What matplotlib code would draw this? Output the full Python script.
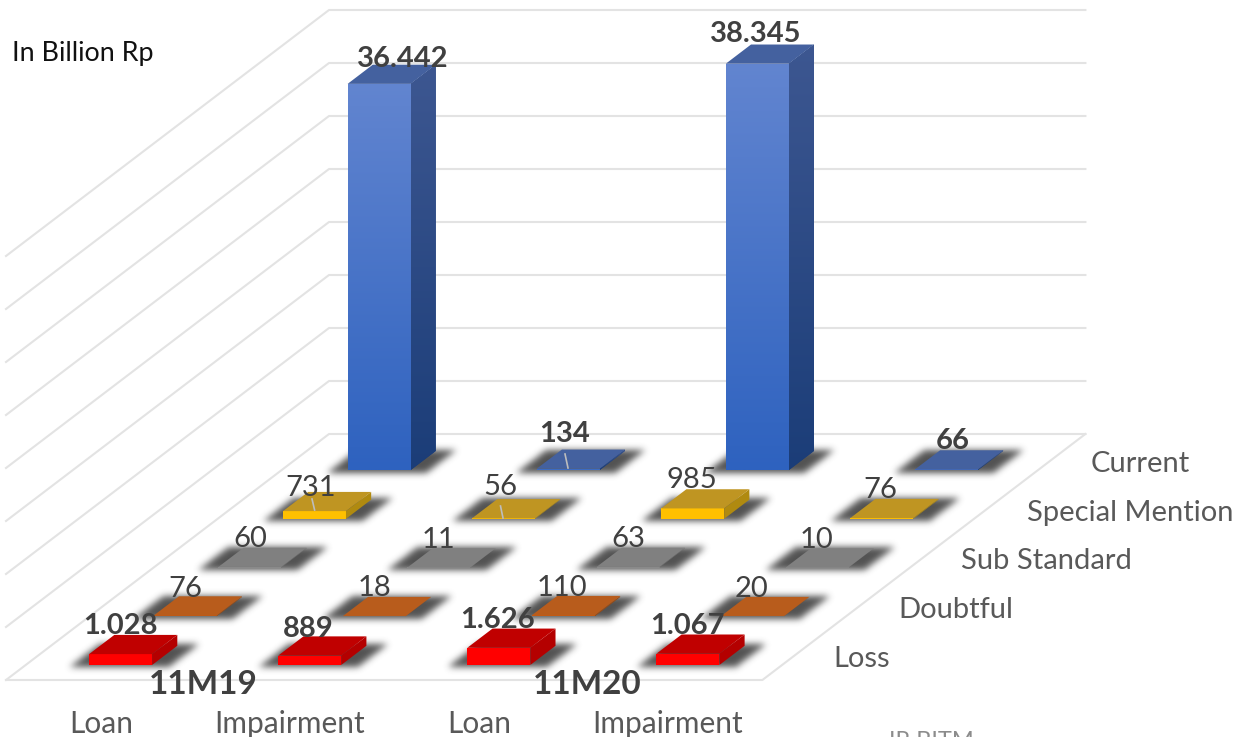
import numpy as np
import matplotlib
matplotlib.use("Agg")
import matplotlib.pyplot as plt
from matplotlib.path import Path
from matplotlib.patches import Polygon

plt.rcParams["font.family"] = ["Lato", "DejaVu Sans"]

W, H = 1237, 737

# data, rows run from front to back
groups = ["Loan", "Impairment", "Loan", "Impairment"]
periods = ["11M19", "11M20"]
statuses = ["Loss", "Doubtful", "Sub Standard", "Special Mention", "Current"]
loss = [1028, 889, 1626, 1067]
doubtful = [76, 18, 110, 20]
sub_standard = [60, 11, 63, 10]
special_mention = [731, 56, 985, 76]
current = [36442, 134, 38345, 66]
series = [loss, doubtful, sub_standard, special_mention, current]
z_ticks = list(range(0, 40001, 5000))

# labels as printed (dot is the thousands separator)
label_text = [
    ["1.028", "889", "1.626", "1.067"],
    ["76", "18", "110", "20"],
    ["60", "11", "63", "10"],
    ["731", "56", "985", "76"],
    ["36.442", "134", "38.345", "66"],
]
label_bold = [True, False, False, False, True]
label_pos = [
    [(120, 624), (308, 627), (498, 618), (687, 624)],
    [(185, 587), (374, 586), (562, 586), (752, 587)],
    [(250, 537), (438, 538), (628, 537), (817, 538)],
    [(311, 486), (500, 485), (692, 478), (880, 488)],
    [(403, 57), (565, 432), (756, 32), (953, 439)],
]
status_pos = [(833, 657), (898, 608), (961, 559), (1027, 511), (1091, 462)]

# colours per row: front top, front bottom, side top, side bottom, top face
row_colors = [
    ("#ff0000", "#ff0000", "#b40000", "#b40000", "#c00000"),
    ("#c55a11", "#c55a11", "#9c4a10", "#9c4a10", "#b85c1c"),
    ("#8a8a8a", "#8a8a8a", "#6e6e6e", "#6e6e6e", "#808080"),
    ("#ffc000", "#ffc000", "#b08a10", "#b08a10", "#bf9522"),
    ("#6285d0", "#2e62bf", "#3d5791", "#1b3d78", "#44619f"),
]
GRID = "#e3e3e3"
TEXT = "#404040"
LABEL = "#595959"


def project(x, y, z):
    """columns, rows, value -> picture pixels"""
    return (6 + 189.1 * x + 64.6 * y, 680 - 49.2 * y - 0.0106 * z)


fig = plt.figure(figsize=(W / 100, H / 100), dpi=100)
ax = fig.add_axes([0, 0, 1, 1])
ax.axis("off")

n_cols, n_rows = len(groups), len(statuses)

# walls and floor
for z in z_ticks:
    ax.plot(*zip(project(0, 0, z), project(0, n_rows, z), project(n_cols, n_rows, z)),
            color=GRID, lw=1.5, zorder=1)
ax.plot(*zip(project(0, 0, 0), project(n_cols, 0, 0), project(n_cols, n_rows, 0)),
        color=GRID, lw=1.5, zorder=1)

bar_w = 0.333
bar_d = 0.39
x_pad = (1 - bar_w) / 2 + 0.002
y_pad = (1 - bar_d) / 2


def footprint(i, j, z=0, ex=0.0, ey=0.0):
    # bars sit a little nearer to the front the further back they are
    x0, x1 = i + x_pad + 0.0035 * j - ex, i + x_pad + 0.0035 * j + bar_w + ex
    y0, y1 = j * 0.99 + y_pad - ey, j * 0.99 + y_pad + bar_d + ey
    return [project(x0, y0, z), project(x1, y0, z), project(x1, y1, z), project(x0, y1, z)]


# blurred shadows under every bar
yy, xx = np.mgrid[0:H, 0:W]
mask = np.zeros((H, W))
for j in range(n_rows):
    for i in range(n_cols):
        pts = np.array(footprint(i, j, 0, ex=0.095, ey=0.04))
        x0, y0 = pts.min(axis=0).astype(int)
        x1, y1 = pts.max(axis=0).astype(int) + 2
        sub = np.c_[xx[y0:y1, x0:x1].ravel(), yy[y0:y1, x0:x1].ravel()]
        inside = Path(pts).contains_points(sub).reshape(y1 - y0, x1 - x0)
        mask[y0:y1, x0:x1] = np.maximum(mask[y0:y1, x0:x1], inside)
kernel = np.exp(-0.5 * (np.arange(-9, 10) / 3.4) ** 2)
kernel /= kernel.sum()
for r in range(H):
    mask[r] = np.convolve(mask[r], kernel, mode="same")
for c in range(W):
    mask[:, c] = np.convolve(mask[:, c], kernel, mode="same")
shadow = np.zeros((H, W, 4))
shadow[..., :3] = 0.25
shadow[..., 3] = mask * 0.9
ax.imshow(shadow, extent=(0, W, H, 0), aspect="auto", zorder=2, interpolation="bilinear")


def gradient_face(pts, c_top, c_bot, zorder):
    poly = Polygon(pts, closed=True, facecolor=c_bot, edgecolor="none", zorder=zorder)
    ax.add_patch(poly)
    if c_top == c_bot:
        return
    pts = np.array(pts)
    rgb0 = np.array(matplotlib.colors.to_rgb(c_top))
    rgb1 = np.array(matplotlib.colors.to_rgb(c_bot))
    t = np.linspace(0, 1, 256)[:, None, None]
    img = rgb0[None, None, :] * (1 - t) + rgb1[None, None, :] * t
    im = ax.imshow(img, extent=(pts[:, 0].min(), pts[:, 0].max(), pts[:, 1].max(), pts[:, 1].min()),
                   aspect="auto", zorder=zorder + 0.1)
    im.set_clip_path(poly)


# bars, back rows first
for j in reversed(range(n_rows)):
    for i in range(n_cols):
        v = series[j][i]
        ftop, fbot, stop, sbot, top = row_colors[j]
        base = footprint(i, j, 0)
        head = footprint(i, j, v)
        z0 = 3 + (n_rows - j) + i * 0.01
        gradient_face([base[0], base[1], head[1], head[0]], ftop, fbot, z0)
        gradient_face([base[1], base[2], head[2], head[1]], stop, sbot, z0)
        ax.add_patch(Polygon(head, closed=True, facecolor=top, edgecolor="none", zorder=z0 + 0.2))

# leader lines of the small labels
for (x0, y0), (x1, y1) in [((312, 499), (314.6, 510)), ((500.5, 506), (503, 518)), ((565, 454), (568, 468))]:
    ax.plot([x0, x1], [y0, y1], color="#bdbdbd", lw=1.2, zorder=20)

# value labels
for j in range(n_rows):
    for i in range(n_cols):
        x, y = label_pos[j][i]
        ax.text(x, y + 2, label_text[j][i], ha="center", va="center", fontsize=21,
                color=TEXT, weight="bold" if label_bold[j] else "normal", zorder=30)

# row names
for name, (x, y) in zip(statuses, status_pos):
    ax.text(x, y + 2, name, ha="left", va="center", fontsize=21, color=LABEL, zorder=30)

# column names and period names
for name, x in zip(groups, [101, 290, 479, 668]):
    ax.text(x, 724, name, ha="center", va="center", fontsize=21.5, color=LABEL, zorder=30)
for name, x in zip(periods, [203, 587]):
    ax.text(x, 684, name, ha="center", va="center", fontsize=24, weight="bold", color=TEXT, zorder=30)

ax.text(12, 53, "In Billion Rp", ha="left", va="center", fontsize=19.4, color="#111111", zorder=30)
ax.text(931, 741, "IR BITM", ha="center", va="center", fontsize=17, color="#8c8c8c", zorder=30)

ax.set_xlim(0, W)
ax.set_ylim(H, 0)
fig.savefig("out.png", dpi=100)
